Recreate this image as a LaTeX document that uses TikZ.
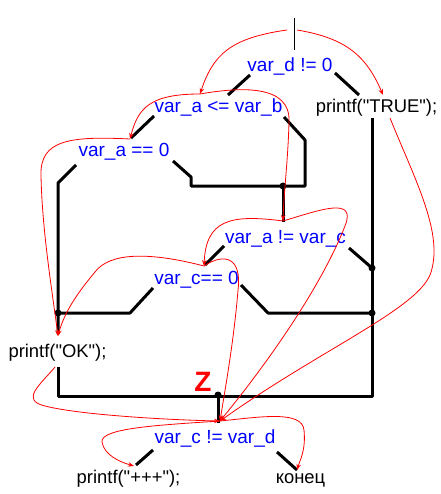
\documentclass[tikz,border=0pt]{standalone}
\usepackage{fontspec}
\setmainfont{Liberation Sans}[Ligatures=TeXOff]
\usetikzlibrary{arrows.meta}
\begin{document}
\begin{tikzpicture}[x=1pt,y=-1pt,
  cond/.style={text=blue,font=\fontsize{19}{19}\selectfont,inner sep=0pt,anchor=base},
  stmt/.style={text=black,font=\fontsize{18.4}{18.4}\selectfont,inner sep=0pt,anchor=base},
  wire/.style={line width=3pt,line join=round},
  flow/.style={red,line width=0.8pt,-{Stealth[length=6pt,width=4.5pt]}},
  dot/.style={circle,fill=black,inner sep=0pt,minimum size=7pt}]
\useasboundingbox (0,0) rectangle (440,494);

% texts
\node[cond] (d)  at (290,72)  {var\_d != 0};
\node[stmt] (tr) at (376.5,113) {printf("TRUE");};
\node[cond] (ab) at (218.5,113) {var\_a <= var\_b};
\node[cond] (a0) at (124,157) {var\_a == 0};
\node[cond] (ac) at (285.5,243) {var\_a != var\_c};
\node[cond] (c0) at (196.5,284) {var\_c== 0};
\node[stmt] (ok) at (57.5,357) {printf("OK");};
\node[cond] (cd) at (215,443) {var\_c != var\_d};
\node[stmt] (pp) at (128.5,483) {printf("+++");};
\node[stmt] (en) at (300.5,483) {конец};
\node[text=red,font=\bfseries\fontsize{28}{28}\selectfont,inner sep=0pt,anchor=base] (z) at (203,391) {Z};

% junction dots
\node[dot] (j1) at (283,186) {};
\node[dot] (j2) at (372,268) {};
\node[dot] (j3) at (58,313) {};
\node[dot] (j4) at (372,313) {};
\node[dot] (j5) at (218,395) {};

% named points
\coordinate (t1) at (294,18);  \coordinate (t2) at (294,50);
\coordinate (d1) at (250,75);  \coordinate (d2) at (228,95);
\coordinate (d3) at (335,73);  \coordinate (d4) at (359,95);
\coordinate (b1) at (154,116); \coordinate (b2) at (131,138);
\coordinate (b3) at (284,117); \coordinate (b4) at (305,140);
\coordinate (b5) at (305,186); \coordinate (b6) at (191,186);
\coordinate (b7) at (191,177); \coordinate (b8) at (173,161);
\coordinate (a1) at (76,165);  \coordinate (a2) at (58,183);
\coordinate (a3) at (58,334);
\coordinate (k1) at (58,367);  \coordinate (k2) at (58,396);
\coordinate (k3) at (372,396); \coordinate (r1) at (372,118);
\coordinate (j1b) at (283,222);
\coordinate (c1) at (224,246); \coordinate (c2) at (205,265);
\coordinate (c3) at (349,248);
\coordinate (e1) at (153,288); \coordinate (e2) at (130,313);
\coordinate (e4) at (241,285); \coordinate (e5) at (268,313);
\coordinate (j5b) at (218,423);
\coordinate (f1) at (153,450); \coordinate (f2) at (136,465);
\coordinate (f3) at (277,452); \coordinate (f4) at (297,470);

% black structure
\draw[line width=1pt] (t1) -- (t2);
\draw[wire] (d1) -- (d2);
\draw[wire] (d3) -- (d4);
\draw[wire] (b1) -- (b2);
\draw[wire] (b3) -- (b4) -- (b5) -- (b6) -- (b7) -- (b8);
\draw[wire] (a1) -- (a2) -- (a3);
\draw[wire] (k1) -- (k2) -- (k3) -- (r1);
\draw[wire] (j1.center) -- (j1b);
\draw[wire] (c1) -- (c2);
\draw[wire] (c3) -- (j2.center);
\draw[wire] (e1) -- (e2) -- (j3.center);
\draw[wire] (e4) -- (e5) -- (j4.center);
\draw[wire] (j5.center) -- (j5b);
\draw[wire] (f1) -- (f2);
\draw[wire] (f3) -- (f4);

% red flow curves
\coordinate (s1) at (287,30); \coordinate (s2) at (297,30);
\coordinate (pab) at (200,94); \coordinate (ptr) at (383,95);
\coordinate (pa0) at (130,139); \coordinate (pac) at (283,221);
\coordinate (pc0) at (204,266); \coordinate (pok) at (58,336);
\coordinate (pcd) at (220,421); \coordinate (ppp) at (134,466);
\coordinate (pen) at (297,470); \coordinate (qtr) at (390,118);
\coordinate (qok) at (55,367);

\draw[flow] (s1) .. controls (230,38) and (213,55) .. (pab);
\draw[flow] (s2) .. controls (345,38) and (366,55) .. (ptr);
\draw[flow] (qtr) .. controls (415,180) and (445,235) .. (430,275) .. controls (415,310) and (320,350) .. (pcd);
\draw[flow] (pab) .. controls (150,94) and (138,108) .. (pa0);
\draw[flow] (pab) .. controls (240,87) and (291,84) .. (289,122) .. controls (288,160) and (284,190) .. (pac);
\draw[flow] (pa0) .. controls (70,136) and (40,140) .. (41,175) .. controls (42,230) and (52,290) .. (pok);
\draw[flow] (pac) .. controls (230,214) and (206,220) .. (pc0);
\draw[flow] (pac) .. controls (320,210) and (357,196) .. (345,226) .. controls (320,290) and (262,370) .. (pcd);
\draw[flow] (pc0) .. controls (150,252) and (110,252) .. (95,272) .. controls (80,290) and (65,310) .. (pok);
\draw[flow] (pc0) .. controls (225,252) and (242,258) .. (238,290) .. controls (234,340) and (225,390) .. (pcd);
\draw[flow] (qok) .. controls (40,385) and (20,400) .. (45,406) .. controls (80,415) and (170,420) .. (pcd);
\draw[flow] (pcd) .. controls (160,425) and (100,428) .. (102,442) .. controls (104,455) and (120,462) .. (ppp);
\draw[flow] (pcd) .. controls (260,417) and (302,410) .. (304,430) .. controls (306,450) and (300,460) .. (pen);
\end{tikzpicture}
\end{document}
